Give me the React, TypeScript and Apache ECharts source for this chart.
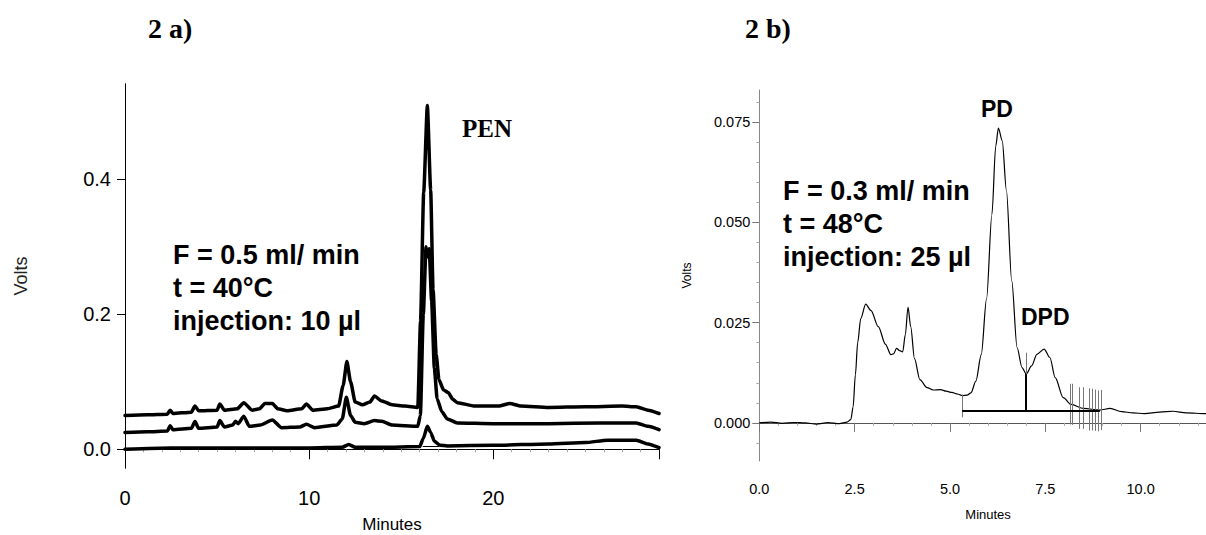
import React, { useEffect, useRef } from "react";
import * as echarts from "echarts";

// ---------- Data: chart 2 a) (three chromatograms, Volts vs Minutes) ----------
const topTimes = [0, 1.2, 2.3, 2.45, 2.6, 3.6, 3.8, 4.0, 5.0, 5.15, 5.4, 6.1, 6.45, 6.9, 7.3, 7.6, 8.0, 8.3, 8.8, 9.6, 9.85, 10.2, 11.0, 11.6, 11.85, 12.05, 12.25, 12.5, 12.9, 13.3, 13.55, 13.9, 14.5, 15.2, 15.9, 16.05, 16.22, 16.42, 16.6, 16.73, 16.9, 17.05, 17.3, 17.55, 17.8, 18.05, 19.0, 20.3, 20.9, 21.5, 23, 25, 27.0, 27.76, 28.4, 29];
const topVolts = [0.05, 0.051, 0.052, 0.058, 0.053, 0.055, 0.064, 0.057, 0.058, 0.067, 0.058, 0.06, 0.069, 0.058, 0.06, 0.068, 0.068, 0.06, 0.057, 0.06, 0.067, 0.058, 0.06, 0.064, 0.095, 0.13, 0.1, 0.07, 0.066, 0.07, 0.079, 0.072, 0.066, 0.064, 0.062, 0.19, 0.38, 0.509, 0.384, 0.236, 0.14, 0.103, 0.088, 0.084, 0.074, 0.069, 0.064, 0.064, 0.068, 0.064, 0.062, 0.063, 0.064, 0.063, 0.058, 0.053];

const midTimes = [0, 1.2, 2.3, 2.45, 2.6, 3.6, 3.8, 4.0, 5.0, 5.15, 5.4, 5.85, 6.0, 6.15, 6.45, 6.75, 7.35, 8.0, 8.5, 9.5, 9.85, 10.3, 11.5, 11.8, 12.02, 12.25, 12.5, 13.0, 13.55, 13.95, 14.5, 15.9, 16.04, 16.2, 16.35, 16.43, 16.52, 16.65, 16.8, 16.95, 17.2, 17.5, 18.05, 20, 23, 25.8, 27.76, 28.4, 29];
const midVolts = [0.025, 0.026, 0.027, 0.035, 0.029, 0.031, 0.041, 0.031, 0.033, 0.0425, 0.033, 0.036, 0.0415, 0.038, 0.049, 0.034, 0.036, 0.0435, 0.032, 0.033, 0.037, 0.032, 0.036, 0.045, 0.077, 0.05, 0.04, 0.038, 0.0425, 0.0415, 0.036, 0.034, 0.05, 0.2, 0.3, 0.285, 0.297, 0.22, 0.12, 0.075, 0.056, 0.045, 0.039, 0.038, 0.038, 0.039, 0.039, 0.034, 0.029];

const lowTimes = [0, 2.5, 5, 8, 10, 11.8, 12.15, 12.5, 14, 16.0, 16.2, 16.42, 16.6, 16.8, 17.1, 17.5, 20, 23, 25, 26.2, 27.76, 28.4, 29];
const lowVolts = [0.0, 0.002, 0.002, 0.002, 0.002, 0.003, 0.007, 0.003, 0.003, 0.004, 0.016, 0.034, 0.025, 0.012, 0.006, 0.005, 0.006, 0.008, 0.01, 0.0135, 0.0135, 0.008, 0.0024];

const penBaseline = [[16.17, 0.004], [17.05, 0.004]];

const leftXTicks = [0, 10, 20];
const leftYTicks = [0, 0.2, 0.4];

// ---------- Data: chart 2 b) ----------
const rightTimes = [0, 0.3, 0.6, 0.9, 1.2, 1.5, 1.8, 2.1, 2.3, 2.4, 2.46, 2.52, 2.58, 2.66, 2.79, 2.93, 3.12, 3.31, 3.45, 3.52, 3.6, 3.68, 3.76, 3.83, 3.9, 3.97, 4.07, 4.21, 4.4, 4.56, 4.75, 4.9, 5.05, 5.2, 5.32, 5.45, 5.55, 5.68, 5.82, 5.96, 6.1, 6.2, 6.27, 6.37, 6.48, 6.62, 6.76, 6.89, 7.0, 7.14, 7.28, 7.47, 7.62, 7.76, 7.97, 8.18, 8.5, 8.93, 9.2, 9.5, 9.8, 10.1, 10.5, 10.85, 11.2, 11.7, 12.0];
const rightVolts = [0.0, 0.0002, -0.0001, 0.0001, 0.0, -0.0003, 0.0001, -0.0002, 0.0002, 0.0008, 0.004, 0.012, 0.02, 0.026, 0.0296, 0.028, 0.024, 0.0196, 0.017, 0.0172, 0.0186, 0.018, 0.0177, 0.022, 0.0289, 0.024, 0.016, 0.0108, 0.0088, 0.0082, 0.0083, 0.0079, 0.0076, 0.0072, 0.0068, 0.0069, 0.0075, 0.0104, 0.017, 0.031, 0.052, 0.069, 0.0735, 0.0704, 0.058, 0.0354, 0.0188, 0.0138, 0.0122, 0.0142, 0.0171, 0.0184, 0.0163, 0.0113, 0.0063, 0.0046, 0.0036, 0.0032, 0.0036, 0.0028, 0.0025, 0.0023, 0.0027, 0.0029, 0.0025, 0.0023, 0.0024];

// integration baseline and drop line
const integBaseline = [[5.32, 0.0031], [8.93, 0.0031]];
const dropLine = [[7.0, 0.0031], [7.0, 0.0122]];
// grey event marks: [time, top, bottom]
const eventMarks = [
  [5.32, 0.0071, 0.0014],
  [7.0, 0.0175, 0.0122],
  [8.15, 0.00975, -0.0004],
  [8.2, 0.00975, -0.0005],
  [8.38, 0.0089, -0.0015],
  [8.5, 0.0089, -0.0015],
  [8.65, 0.0086, -0.0019],
  [8.72, 0.0085, -0.0019],
  [8.81, 0.0083, -0.002],
  [8.89, 0.0081, -0.0021],
  [8.98, 0.0082, -0.0018],
];

const rightXTicks = [0, 2.5, 5, 7.5, 10];
const rightYTicks = [0, 0.025, 0.05, 0.075];
const rightYMinorTicks = [-0.005, 0.005, 0.01, 0.015, 0.02, 0.03, 0.035, 0.04, 0.045, 0.055, 0.06, 0.065, 0.07, 0.08];

const zip = (xs: number[], ys: number[]) => xs.map((x, i) => [x, ys[i]]);

const SANS = "'Liberation Sans', Arial, sans-serif";
const SERIF = "'Liberation Serif', 'Times New Roman', serif";

export default function App() {
  const ref = useRef<HTMLDivElement>(null);

  useEffect(() => {
    document.body.style.margin = "0";
    if (!ref.current) return;
    const chart = echarts.init(ref.current, undefined, { renderer: "svg" });

    const thick = { color: "#000", width: 3.5, join: "round", cap: "round" };

    const option: any = {
      animation: false,
      backgroundColor: "#fff",
      grid: [
        { left: 125, top: 84, width: 534, height: 384, outerBoundsMode: "none", containLabel: false },
        { left: 759.3, top: 90, width: 457.6, height: 371, outerBoundsMode: "none", containLabel: false },
      ],
      xAxis: [
        {
          gridIndex: 0,
          type: "value",
          min: 0,
          max: 29,
          interval: 10,
          name: "Minutes",
          nameLocation: "middle",
          nameGap: 48,
          nameTextStyle: { fontFamily: SANS, fontSize: 17, color: "#000" },
          axisLine: { show: true, lineStyle: { color: "#999", width: 1 } },
          axisTick: { show: true, length: 10, lineStyle: { color: "#000" } },
          minorTick: { show: true, splitNumber: 10, length: 3, lineStyle: { color: "#aaa" } },
          axisLabel: {
            fontFamily: SANS,
            fontSize: 20,
            color: "#000",
            margin: 20,
            customValues: leftXTicks,
            formatter: (v: number) => String(v),
          },
          splitLine: { show: false },
        },
        {
          gridIndex: 0,
          type: "value",
          position: "top",
          min: 0,
          max: 29,
          axisLine: { show: true, lineStyle: { color: "#000", width: 1 } },
          axisTick: { show: false },
          axisLabel: { show: false },
          splitLine: { show: false },
        },
        {
          gridIndex: 1,
          type: "value",
          min: 0,
          max: 12,
          interval: 2.5,
          name: "Minutes",
          nameLocation: "middle",
          nameGap: 47,
          nameTextStyle: { fontFamily: SANS, fontSize: 13, color: "#000" },
          axisLine: { show: true, lineStyle: { color: "#888", width: 1 } },
          axisTick: { show: true, length: 9, lineStyle: { color: "#777" } },
          minorTick: { show: true, splitNumber: 5, length: 3, lineStyle: { color: "#aaa" } },
          axisLabel: {
            fontFamily: SANS,
            fontSize: 14.5,
            color: "#000",
            margin: 20,
            customValues: rightXTicks,
            formatter: (v: number) => v.toFixed(1),
          },
          splitLine: { show: false },
        },
        {
          gridIndex: 1,
          type: "value",
          position: "top",
          min: 0,
          max: 12,
          axisLine: { show: true, lineStyle: { color: "#555", width: 1 } },
          axisTick: { show: false },
          axisLabel: { show: false },
          splitLine: { show: false },
        },
      ],
      yAxis: [
        {
          gridIndex: 0,
          type: "value",
          min: -0.0277,
          max: 0.541,
          name: "Volts",
          nameLocation: "middle",
          nameGap: 95,
          nameTextStyle: { fontFamily: SANS, fontSize: 18, color: "#222" },
          axisLine: { show: true, lineStyle: { color: "#000", width: 1 } },
          axisTick: { show: true, length: 8, customValues: leftYTicks, lineStyle: { color: "#000" } },
          axisLabel: {
            fontFamily: SANS,
            fontSize: 20,
            color: "#000",
            margin: 14,
            customValues: leftYTicks,
            formatter: (v: number) => v.toFixed(1),
          },
          splitLine: { show: false },
        },
        {
          gridIndex: 0,
          type: "value",
          position: "right",
          min: -0.0277,
          max: 0.541,
          axisLine: { show: true, lineStyle: { color: "#000", width: 1 } },
          axisTick: { show: false },
          axisLabel: { show: false },
          splitLine: { show: false },
        },
        {
          gridIndex: 1,
          type: "value",
          min: -0.0095,
          max: 0.083,
          name: "Volts",
          nameLocation: "middle",
          nameGap: 66,
          nameTextStyle: { fontFamily: SANS, fontSize: 12, color: "#000" },
          axisLine: { show: true, lineStyle: { color: "#888", width: 1 } },
          axisTick: { show: true, length: 7, customValues: rightYTicks, lineStyle: { color: "#777" } },
          axisLabel: {
            fontFamily: SANS,
            fontSize: 14.5,
            color: "#000",
            margin: 9,
            customValues: rightYTicks,
            formatter: (v: number) => v.toFixed(3),
          },
          splitLine: { show: false },
        },
        {
          gridIndex: 1,
          type: "value",
          min: -0.0095,
          max: 0.083,
          axisLine: { show: false },
          axisTick: {
            show: true,
            inside: true,
            length: 3,
            customValues: rightYMinorTicks,
            lineStyle: { color: "#aaa" },
          },
          axisLabel: { show: false },
          splitLine: { show: false },
        },
      ],
      series: [
        {
          type: "line",
          xAxisIndex: 0,
          yAxisIndex: 0,
          data: zip(topTimes, topVolts),
          showSymbol: false,
          smooth: 0.2,
          smoothMonotone: "x",
          lineStyle: thick,
          z: 3,
        },
        {
          type: "line",
          xAxisIndex: 0,
          yAxisIndex: 0,
          data: zip(midTimes, midVolts),
          showSymbol: false,
          smooth: 0.2,
          smoothMonotone: "x",
          lineStyle: thick,
          z: 3,
        },
        {
          type: "line",
          xAxisIndex: 0,
          yAxisIndex: 0,
          data: zip(lowTimes, lowVolts),
          showSymbol: false,
          smooth: 0.2,
          smoothMonotone: "x",
          lineStyle: thick,
          z: 3,
          markLine: {
            silent: true,
            symbol: ["none", "none"],
            label: { show: false },
            lineStyle: { color: "#000", width: 1, type: "solid" },
            data: [[{ coord: penBaseline[0] }, { coord: penBaseline[1] }]],
          },
        },
        {
          type: "line",
          xAxisIndex: 2,
          yAxisIndex: 2,
          data: zip(rightTimes, rightVolts),
          showSymbol: false,
          smooth: 0.3,
          smoothMonotone: "x",
          lineStyle: { color: "#000", width: 1.2 },
          z: 3,
          markLine: {
            silent: true,
            symbol: ["none", "none"],
            label: { show: false },
            data: [
              ...eventMarks.map((m) => [
                { coord: [m[0], m[1]], lineStyle: { color: "#777", width: 1, type: "solid" } },
                { coord: [m[0], m[2]] },
              ]),
              [
                { coord: integBaseline[0], lineStyle: { color: "#000", width: 2, type: "solid" } },
                { coord: integBaseline[1] },
              ],
              [
                { coord: dropLine[0], lineStyle: { color: "#000", width: 2, type: "solid" } },
                { coord: dropLine[1] },
              ],
            ],
          },
        },
      ],
      graphic: [
        {
          type: "text",
          left: 148,
          top: 14,
          style: { text: "2 a)", font: `bold 28px ${SERIF}`, fill: "#000" },
        },
        {
          type: "text",
          left: 745,
          top: 14,
          style: { text: "2 b)", font: `bold 28px ${SERIF}`, fill: "#000" },
        },
        {
          type: "text",
          left: 462,
          top: 116,
          style: { text: "PEN", font: `bold 25px ${SERIF}`, fill: "#000" },
        },
        {
          type: "text",
          left: 173,
          top: 238,
          style: {
            text: "F = 0.5 ml/ min\nt = 40°C\ninjection: 10 µl",
            font: `bold 27px ${SANS}`,
            lineHeight: 33,
            fill: "#000",
          },
        },
        {
          type: "text",
          left: 783,
          top: 174,
          style: {
            text: "F = 0.3 ml/ min\nt = 48°C\ninjection: 25 µl",
            font: `bold 27px ${SANS}`,
            lineHeight: 33,
            fill: "#000",
          },
        },
        {
          type: "text",
          left: 981,
          top: 97,
          style: { text: "PD", font: `bold 23px ${SANS}`, fill: "#000" },
        },
        {
          type: "text",
          left: 1021,
          top: 305,
          style: { text: "DPD", font: `bold 23px ${SANS}`, fill: "#000" },
        },
      ],
    };

    chart.setOption(option);
    return () => chart.dispose();
  }, []);

  return <div ref={ref} style={{ width: 1206, height: 535 }} />;
}
